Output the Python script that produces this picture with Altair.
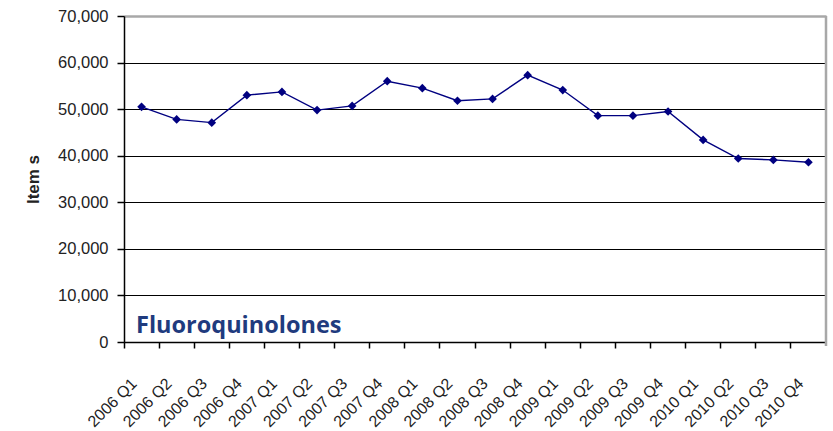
import altair as alt
import pandas as pd

# Quarterly prescription items, fluoroquinolones
quarters = [
    "2006 Q1", "2006 Q2", "2006 Q3", "2006 Q4",
    "2007 Q1", "2007 Q2", "2007 Q3", "2007 Q4",
    "2008 Q1", "2008 Q2", "2008 Q3", "2008 Q4",
    "2009 Q1", "2009 Q2", "2009 Q3", "2009 Q4",
    "2010 Q1", "2010 Q2", "2010 Q3", "2010 Q4",
]
items = [
    50500, 47800, 47100, 53000,
    53700, 49800, 50700, 56000,
    54500, 51800, 52200, 57300,
    54100, 48600, 48600, 49500,
    43400, 39400, 39100, 38600,
]
y_ticks = [0, 10000, 20000, 30000, 40000, 50000, 60000, 70000]
drug_label = "Fluoroquinolones"

df = pd.DataFrame({"quarter": quarters, "items": items})

NAVY = "#000080"
TEXT = "#222222"
FONT = "Liberation Sans"

x_enc = alt.X(
    "quarter:O",
    sort=quarters,
    scale=alt.Scale(type="band", paddingInner=0, paddingOuter=0),
    axis=alt.Axis(
        title=None,
        labelAngle=-45,
        labelFont=FONT,
        labelFontSize=16,
        labelColor=TEXT,
        labelPadding=27,
        labelOffset=-13,
        labelAlign="right",
        labelBaseline="top",
        bandPosition=0,
        tickColor="black",
        tickSize=6,
        tickWidth=1.5,
        domainColor="black",
        domainWidth=1.5,
        grid=False,
    ),
)

y_enc = alt.Y(
    "items:Q",
    scale=alt.Scale(domain=[0, 70000], nice=False),
    axis=alt.Axis(
        title="Item s",
        titleFont=FONT,
        titleFontSize=17,
        titleFontWeight="bold",
        titleColor=TEXT,
        titleX=-91,
        titleY=163,
        titleAngle=-90,
        titleBaseline="middle",
        titleAlign="center",
        values=y_ticks,
        format=",.0f",
        labelFont=FONT,
        labelFontSize=16.5,
        labelColor=TEXT,
        labelPadding=9,
        tickColor="black",
        tickSize=7,
        tickWidth=1.5,
        domainColor="black",
        domainWidth=1.5,
        gridColor=alt.condition("datum.value == 70000", alt.value("#a8a8a8"), alt.value("black")),
        gridWidth=alt.condition("datum.value == 70000", alt.value(2.5), alt.value(1.2)),
    ),
)

line = alt.Chart(df).mark_line(
    color=NAVY,
    strokeWidth=1.4,
    point=alt.OverlayMarkDef(shape="diamond", size=75, filled=True, color=NAVY, opacity=1),
).encode(x=x_enc, y=y_enc)

label = alt.Chart(pd.DataFrame({"t": [drug_label]})).mark_text(
    font="Open Sans",
    fontSize=23.5,
    fontWeight="bold",
    color="#1f3b7e",
    align="left",
    baseline="alphabetic",
).encode(text="t:N", x=alt.value(12), y=alt.value(317))

# right-hand border of the plot area
border = alt.Chart(pd.DataFrame({"v": [0]})).mark_rule(
    color="#a8a8a8", strokeWidth=2.5
).encode(x=alt.value(702), y=alt.value(0), y2=alt.value(330))

chart = (
    alt.layer(line, label, border)
    .properties(
        width=702,
        height=326,
        autosize=alt.AutoSizeParams(type="none"),
        padding={"left": 124, "top": 16, "right": 7, "bottom": 89},
    )
    .configure_view(stroke=None)
    .configure(background="white", font=FONT)
)

chart.save("out.html", embed_options={"renderer": "svg", "actions": False})
